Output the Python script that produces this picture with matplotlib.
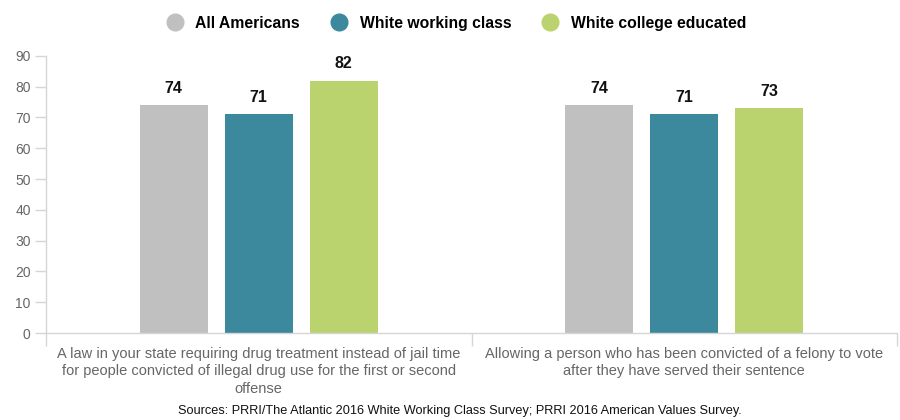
import numpy as np
import matplotlib.pyplot as plt
from matplotlib.lines import Line2D

plt.rcParams['font.family'] = ['Liberation Sans', 'DejaVu Sans']

questions = [
    'A law in your state requiring drug treatment instead of jail time\n'
    'for people convicted of illegal drug use for the first or second\n'
    'offense',
    'Allowing a person who has been convicted of a felony to vote\n'
    'after they have served their sentence',
]
groups = ['All Americans', 'White working class', 'White college educated']
all_americans = [74, 74]
white_working = [71, 71]
white_college = [82, 73]
colors = ['#c0c0c0', '#3c889c', '#bbd36f']
source = 'Sources: PRRI/The Atlantic 2016 White Working Class Survey; PRRI 2016 American Values Survey.'

fig = plt.figure(figsize=(9, 4.2), dpi=100)
ax = fig.add_axes([0.0511, 0.207, 0.9456, 0.66])

x = np.arange(len(questions))
width = 0.16
step = 0.2
series = [all_americans, white_working, white_college]
for i, (vals, col) in enumerate(zip(series, colors)):
    pos = x + (i - 1) * step
    ax.bar(pos, vals, width=width, color=col, zorder=2)
    for px, v in zip(pos, vals):
        ax.text(px, v + 3.0, str(v), ha='center', va='bottom',
                fontsize=11.5, fontweight='bold', color='#111111')

ax.set_xlim(-0.5, 1.5)
ax.set_ylim(0, 90)
ax.set_yticks(range(0, 91, 10))
ax.tick_params(axis='y', length=8, width=1, color='#d6d6d6',
               labelsize=10, labelcolor='#666666', pad=3)

ax.set_xticks(x)
ax.set_xticklabels(questions, fontsize=10.5, color='#666666', linespacing=1.3)
ax.tick_params(axis='x', which='major', length=0, pad=10)
ax.set_xticks([-0.5, 0.5, 1.5], minor=True)
ax.tick_params(axis='x', which='minor', length=9, width=1, color='#d6d6d6')

for side in ['top', 'right']:
    ax.spines[side].set_visible(False)
for side in ['left', 'bottom']:
    ax.spines[side].set_color('#d6d6d6')
    ax.spines[side].set_linewidth(1)

handles = [Line2D([], [], marker='o', linestyle='none', markersize=12,
                  markerfacecolor=c, markeredgecolor=c) for c in colors]
leg = fig.legend(handles, groups, loc='center', bbox_to_anchor=(0.503, 0.945),
                 ncol=3, frameon=False, handletextpad=0.3, columnspacing=1.5,
                 prop={'size': 11.3, 'weight': 'bold'})

fig.text(0.511, 0.022, source, ha='center', va='center', fontsize=9.2, color='#111111')

fig.savefig('out.png', dpi=100)
